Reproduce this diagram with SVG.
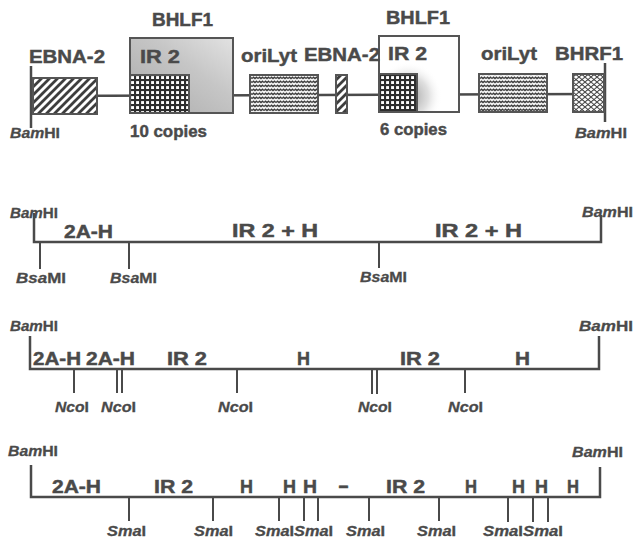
<svg xmlns="http://www.w3.org/2000/svg" width="633" height="541" viewBox="0 0 633 541">
<style>
text{font-family:"Liberation Sans",Arial,sans-serif;font-weight:bold;fill:#4a4a4a;stroke:#4a4a4a;stroke-width:0.45}
.big{font-size:19px}
.cp{font-size:17px}
.mid{font-size:18px}
.sm{font-size:15px;stroke-width:0.3}
.i{font-style:italic}
.ln{stroke:#4a4a4a;stroke-width:2.5;fill:none}
.tk{stroke:#4a4a4a;stroke-width:2;fill:none}
.bx{stroke:#555;stroke-width:2}
</style>
<defs>
<pattern id="hatch" patternUnits="userSpaceOnUse" width="8" height="8">
<rect width="8" height="8" fill="#fff"/>
<path d="M-2,2 L2,-2 M0,8 L8,0 M6,10 L10,6" stroke="#3e3e3e" stroke-width="2.8"/>
</pattern>
<pattern id="check" patternUnits="userSpaceOnUse" width="5" height="5" x="130" y="75">
<rect width="5" height="5" fill="#2e2e2e"/>
<rect x="1.1" y="1.1" width="2.9" height="2.9" fill="#fff"/>
</pattern>
<pattern id="wave" patternUnits="userSpaceOnUse" width="6" height="4">
<rect width="6" height="4" fill="#f4f4f4"/>
<path d="M0,2.6 L1.5,1.2 L3,2.6 L4.5,1.2 L6,2.6" stroke="#3a3a3a" stroke-width="1.3" fill="none"/>
</pattern>
<pattern id="scale" patternUnits="userSpaceOnUse" width="6" height="5">
<rect width="6" height="5" fill="#fff"/>
<path d="M0,5 Q3,0 6,5 M-3,2.5 Q0,-2.5 3,2.5 M3,2.5 Q6,-2.5 9,2.5" stroke="#444" stroke-width="1.1" fill="none"/>
</pattern>
<linearGradient id="g1" x1="0" y1="1" x2="1" y2="0">
<stop offset="0" stop-color="#a9a9a9"/>
<stop offset="0.6" stop-color="#c6c6c6"/>
<stop offset="1" stop-color="#e2e2e2"/>
</linearGradient>
<radialGradient id="g2" gradientUnits="userSpaceOnUse" cx="408" cy="96" r="34">
<stop offset="0" stop-color="#8a8a8a" stop-opacity="0.9"/>
<stop offset="0.6" stop-color="#b0b0b0" stop-opacity="0.4"/>
<stop offset="1" stop-color="#ffffff" stop-opacity="0"/>
</radialGradient>
</defs>

<g id="connectors">
<line class="ln" x1="31" y1="96" x2="605" y2="94"/>
<line class="ln" x1="31" y1="66" x2="31" y2="128"/>
<line class="ln" x1="605" y1="63" x2="605" y2="122"/>

<path class="ln" d="M34,213 V242 H601 V215"/>
<path class="tk" d="M40,242 V269 M129,242 V269 M379,242 V268"/>

<path class="ln" d="M30,336 V369 H599 V336"/>
<path class="tk" d="M74,369 V393 M117,369 V393 M122,369 V393 M237,369 V393 M372,369 V394 M377,369 V394 M465,369 V393"/>

<path class="ln" d="M31,465 V497 H600 V467"/>
<path class="tk" d="M129,497 V521 M213,497 V521 M279,497 V521 M304,497 V521 M318,497 V521 M369,497 V521 M439,497 V521 M508,497 V522 M533,497 V522 M548,497 V522"/>
</g>

<g id="ebna2-a"><rect class="bx" x="33" y="78" width="64" height="36" fill="url(#hatch)"/></g>
<g id="bhlf1-a">
<rect class="bx" x="130" y="38" width="103" height="75" fill="url(#g1)"/>
<rect class="bx" x="130" y="75" width="59" height="38" fill="url(#check)"/>
</g>
<g id="orilyt-a"><rect class="bx" x="250" y="75" width="68" height="38" fill="url(#wave)"/></g>
<g id="ebna2-b"><rect class="bx" x="336" y="75" width="11" height="38" fill="url(#hatch)"/></g>
<g id="bhlf1-b">
<rect class="bx" x="379" y="36" width="80" height="76" fill="#fff"/>
<rect x="380" y="37" width="78" height="74" fill="url(#g2)"/>
<rect class="bx" x="379" y="74" width="38" height="38" fill="url(#check)"/>
</g>
<g id="orilyt-b"><rect class="bx" x="479" y="74" width="68" height="38" fill="url(#wave)"/></g>
<g id="bhrf1"><rect class="bx" x="573" y="74" width="31" height="38" fill="url(#scale)"/></g>

<g id="labels-top">
<text class="big" x="152" y="26" textLength="61" lengthAdjust="spacingAndGlyphs">BHLF1</text>
<text class="big" x="29" y="63" textLength="76" lengthAdjust="spacingAndGlyphs">EBNA-2</text>
<text class="big" x="140" y="63" textLength="40" lengthAdjust="spacingAndGlyphs">IR 2</text>
<text class="big" x="241" y="62" textLength="56" lengthAdjust="spacingAndGlyphs">oriLyt</text>
<text class="big" x="304" y="61" textLength="76" lengthAdjust="spacingAndGlyphs">EBNA-2</text>
<text class="big" x="388" y="60" textLength="39" lengthAdjust="spacingAndGlyphs">IR 2</text>
<text class="big" x="386" y="24" textLength="64" lengthAdjust="spacingAndGlyphs">BHLF1</text>
<text class="big" x="481" y="60" textLength="56" lengthAdjust="spacingAndGlyphs">oriLyt</text>
<text class="big" x="555" y="60" textLength="68" lengthAdjust="spacingAndGlyphs">BHRF1</text>
<text class="cp" x="130" y="137" textLength="77" lengthAdjust="spacingAndGlyphs">10 copies</text>
<text class="cp" x="380" y="135" textLength="67" lengthAdjust="spacingAndGlyphs">6 copies</text>
<text class="sm" x="10" y="138" textLength="50" lengthAdjust="spacingAndGlyphs"><tspan class="i">Bam</tspan>HI</text>
<text class="sm" x="575" y="138" textLength="52" lengthAdjust="spacingAndGlyphs"><tspan class="i">Bam</tspan>HI</text>
</g>

<g id="labels-bsami">
<text class="sm" x="10" y="218" textLength="48" lengthAdjust="spacingAndGlyphs"><tspan class="i">Bam</tspan>HI</text>
<text class="sm" x="582" y="217" textLength="51" lengthAdjust="spacingAndGlyphs"><tspan class="i">Bam</tspan>HI</text>
<text class="mid" x="64" y="238" textLength="49" lengthAdjust="spacingAndGlyphs">2A-H</text>
<text class="mid" x="232" y="237" textLength="86" lengthAdjust="spacingAndGlyphs">IR 2 + H</text>
<text class="mid" x="435" y="237" textLength="87" lengthAdjust="spacingAndGlyphs">IR 2 + H</text>
<text class="sm" x="16" y="283" textLength="50" lengthAdjust="spacingAndGlyphs"><tspan class="i">Bsa</tspan>MI</text>
<text class="sm" x="110" y="283" textLength="47" lengthAdjust="spacingAndGlyphs"><tspan class="i">Bsa</tspan>MI</text>
<text class="sm" x="360" y="282" textLength="47" lengthAdjust="spacingAndGlyphs"><tspan class="i">Bsa</tspan>MI</text>
</g>

<g id="labels-ncoi">
<text class="sm" x="10" y="331" textLength="48" lengthAdjust="spacingAndGlyphs"><tspan class="i">Bam</tspan>HI</text>
<text class="sm" x="579" y="331" textLength="54" lengthAdjust="spacingAndGlyphs"><tspan class="i">Bam</tspan>HI</text>
<text class="mid" x="33" y="365" textLength="48" lengthAdjust="spacingAndGlyphs">2A-H</text>
<text class="mid" x="86" y="365" textLength="49" lengthAdjust="spacingAndGlyphs">2A-H</text>
<text class="mid" x="167" y="365" textLength="40" lengthAdjust="spacingAndGlyphs">IR 2</text>
<text class="mid" x="297" y="365" textLength="13" lengthAdjust="spacingAndGlyphs">H</text>
<text class="mid" x="400" y="365" textLength="40" lengthAdjust="spacingAndGlyphs">IR 2</text>
<text class="mid" x="515" y="365" textLength="15" lengthAdjust="spacingAndGlyphs">H</text>
<text class="sm" x="55" y="412" textLength="34" lengthAdjust="spacingAndGlyphs"><tspan class="i">Nco</tspan>I</text>
<text class="sm" x="101" y="412" textLength="35" lengthAdjust="spacingAndGlyphs"><tspan class="i">Nco</tspan>I</text>
<text class="sm" x="218" y="412" textLength="35" lengthAdjust="spacingAndGlyphs"><tspan class="i">Nco</tspan>I</text>
<text class="sm" x="358" y="412" textLength="34" lengthAdjust="spacingAndGlyphs"><tspan class="i">Nco</tspan>I</text>
<text class="sm" x="448" y="412" textLength="35" lengthAdjust="spacingAndGlyphs"><tspan class="i">Nco</tspan>I</text>
</g>

<g id="labels-smai">
<text class="sm" x="8" y="456" textLength="50" lengthAdjust="spacingAndGlyphs"><tspan class="i">Bam</tspan>HI</text>
<text class="sm" x="572" y="457" textLength="51" lengthAdjust="spacingAndGlyphs"><tspan class="i">Bam</tspan>HI</text>
<text class="mid" x="52" y="493" textLength="49" lengthAdjust="spacingAndGlyphs">2A-H</text>
<text class="mid" x="154" y="493" textLength="39" lengthAdjust="spacingAndGlyphs">IR 2</text>
<text class="mid" x="240" y="493" textLength="13" lengthAdjust="spacingAndGlyphs">H</text>
<text class="mid" x="283" y="493" textLength="13" lengthAdjust="spacingAndGlyphs">H</text>
<text class="mid" x="303" y="493" textLength="14" lengthAdjust="spacingAndGlyphs">H</text>
<text class="mid" x="338" y="492" textLength="11" lengthAdjust="spacingAndGlyphs">-</text>
<text class="mid" x="386" y="493" textLength="39" lengthAdjust="spacingAndGlyphs">IR 2</text>
<text class="mid" x="465" y="493" textLength="12" lengthAdjust="spacingAndGlyphs">H</text>
<text class="mid" x="512" y="493" textLength="13" lengthAdjust="spacingAndGlyphs">H</text>
<text class="mid" x="535" y="493" textLength="13" lengthAdjust="spacingAndGlyphs">H</text>
<text class="mid" x="567" y="493" textLength="12" lengthAdjust="spacingAndGlyphs">H</text>
<text class="sm" x="107" y="536" textLength="39" lengthAdjust="spacingAndGlyphs"><tspan class="i">Sma</tspan>I</text>
<text class="sm" x="194" y="536" textLength="39" lengthAdjust="spacingAndGlyphs"><tspan class="i">Sma</tspan>I</text>
<text class="sm" x="255" y="536" textLength="39" lengthAdjust="spacingAndGlyphs"><tspan class="i">Sma</tspan>I</text>
<text class="sm" x="294" y="536" textLength="39" lengthAdjust="spacingAndGlyphs"><tspan class="i">Sma</tspan>I</text>
<text class="sm" x="346" y="536" textLength="39" lengthAdjust="spacingAndGlyphs"><tspan class="i">Sma</tspan>I</text>
<text class="sm" x="417" y="536" textLength="39" lengthAdjust="spacingAndGlyphs"><tspan class="i">Sma</tspan>I</text>
<text class="sm" x="483" y="536" textLength="40" lengthAdjust="spacingAndGlyphs"><tspan class="i">Sma</tspan>I</text>
<text class="sm" x="523" y="536" textLength="40" lengthAdjust="spacingAndGlyphs"><tspan class="i">Sma</tspan>I</text>
</g>
</svg>
